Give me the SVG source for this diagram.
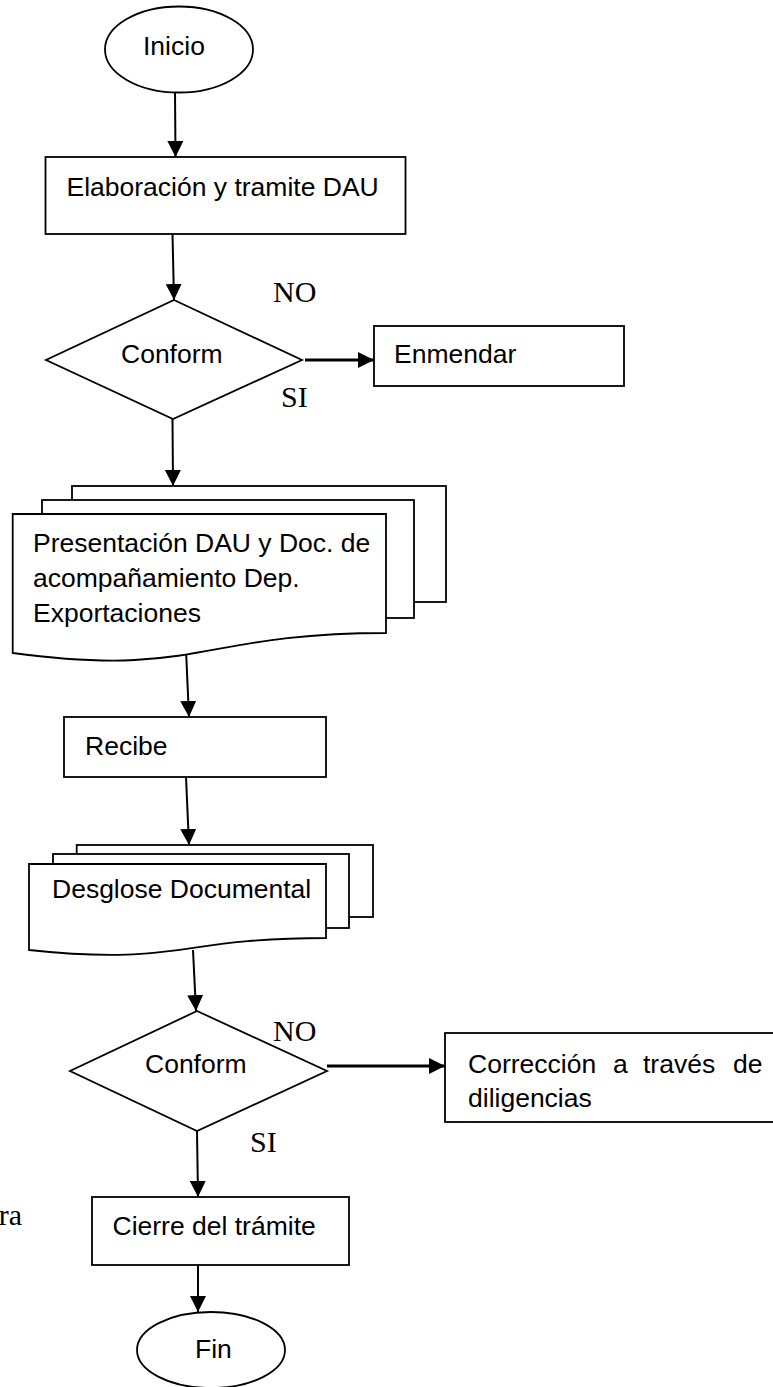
<svg xmlns="http://www.w3.org/2000/svg" width="773" height="1387" viewBox="0 0 773 1387">
<style>
.s{fill:#fff;stroke:#000;stroke-width:1.8}
.t{font-family:"Liberation Sans",Arial,sans-serif;font-size:26.5px;fill:#000}
.l{font-family:"Liberation Serif","Times New Roman",serif;font-size:30px;fill:#000}
.c{fill:none;stroke:#000;stroke-width:2}
.ct{fill:none;stroke:#000;stroke-width:3}
</style>
<defs>
<marker id="ah" viewBox="0 0 16 16" markerWidth="16" markerHeight="16" refX="16" refY="8" orient="auto" markerUnits="userSpaceOnUse">
<path d="M0,0 L16,8 L0,16 Z" fill="#000"/>
</marker>
</defs>
<rect width="773" height="1387" fill="#fff"/>
<g id="connectors">
<line class="c" x1="175" y1="92" x2="175.5" y2="157" marker-end="url(#ah)"/>
<line class="c" x1="172.5" y1="234" x2="174" y2="300" marker-end="url(#ah)"/>
<line class="ct" x1="305" y1="360" x2="374" y2="360" marker-end="url(#ah)"/>
<line class="c" x1="172.5" y1="419" x2="173" y2="486" marker-end="url(#ah)"/>
<line class="c" x1="186" y1="650" x2="189" y2="717" marker-end="url(#ah)"/>
<line class="c" x1="186" y1="777" x2="189" y2="845" marker-end="url(#ah)"/>
<line class="c" x1="193" y1="950" x2="196" y2="1011" marker-end="url(#ah)"/>
<line class="ct" x1="327" y1="1066" x2="445" y2="1066" marker-end="url(#ah)"/>
<line class="c" x1="197" y1="1131" x2="198" y2="1197" marker-end="url(#ah)"/>
<line class="c" x1="198" y1="1265" x2="198" y2="1312" marker-end="url(#ah)"/>
</g>
<g id="inicio">
<ellipse class="s" cx="179" cy="49.5" rx="74" ry="43"/>
<text class="t" x="143" y="55">Inicio</text>
</g>
<g id="elaboracion">
<rect class="s" x="45.5" y="157" width="360" height="77"/>
<text class="t" x="66.5" y="196">Elaboración y tramite DAU</text>
</g>
<g id="conform1">
<polygon class="s" points="174,300 302,360 173,419 46,360"/>
<text class="t" x="121" y="363">Conform</text>
<text class="l" x="273" y="302">NO</text>
<text class="l" x="281" y="407">SI</text>
</g>
<g id="enmendar">
<rect class="s" x="374" y="326" width="250" height="60"/>
<text class="t" x="394" y="363">Enmendar</text>
</g>
<g id="presentacion">
<rect class="s" x="72" y="486" width="374" height="116"/>
<rect class="s" x="42" y="500" width="372" height="118"/>
<path class="s" d="M12.7,514 H386 V633 C199,633 199,678 12.7,653 Z"/>
<text class="t" x="33" y="552">Presentación DAU y Doc. de</text>
<text class="t" x="33" y="587">acompañamiento Dep.</text>
<text class="t" x="33" y="622">Exportaciones</text>
</g>
<g id="recibe">
<rect class="s" x="64" y="717" width="262" height="60"/>
<text class="t" x="85" y="755">Recibe</text>
</g>
<g id="desglose">
<rect class="s" x="76.7" y="845" width="296.3" height="72"/>
<rect class="s" x="53" y="854" width="296" height="74"/>
<path class="s" d="M29,864 H326 V938 C177.5,938 177.5,966 29,950 Z"/>
<text class="t" x="52" y="898">Desglose Documental</text>
</g>
<g id="conform2">
<polygon class="s" points="197,1011 327,1071 197,1131 70,1071"/>
<text class="t" x="145" y="1073">Conform</text>
<text class="l" x="273" y="1041">NO</text>
<text class="l" x="250" y="1152">SI</text>
</g>
<g id="correccion">
<rect class="s" x="445" y="1033" width="340" height="89"/>
<text class="t" y="1073"><tspan x="468">Corrección</tspan><tspan x="613">a</tspan><tspan x="643">través</tspan><tspan x="733">de</tspan></text>
<text class="t" x="468" y="1107">diligencias</text>
</g>
<text class="l" x="22" y="1225" text-anchor="end">ra</text>
<g id="cierre">
<rect class="s" x="92" y="1197" width="257" height="68"/>
<text class="t" x="112.5" y="1235">Cierre del trámite</text>
</g>
<g id="fin">
<ellipse class="s" cx="211" cy="1350" rx="74" ry="38"/>
<text class="t" x="195" y="1358">Fin</text>
</g>
</svg>
